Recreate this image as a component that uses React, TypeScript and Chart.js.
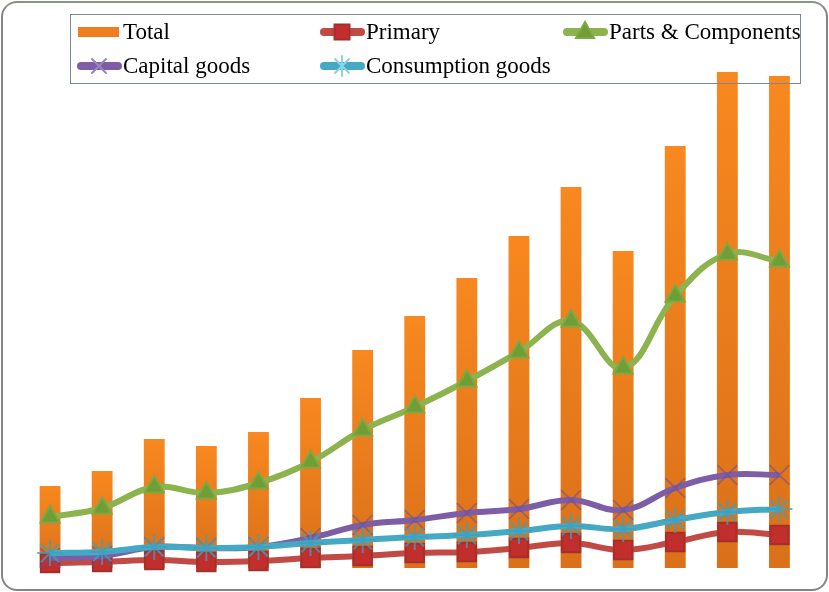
import { useEffect, useRef } from "react";
import { Chart, registerables } from "chart.js";
Chart.register(...registerables);

const categories = ["1995","1996","1997","1998","1999","2000","2001","2002","2003","2004","2005","2006","2007","2008","2009"];
const total = [82, 97, 129, 122, 136, 170, 218, 252, 290, 332, 381, 317, 422, 496, 492];
const primary = [5, 6, 8, 6, 7, 10, 12, 15, 16, 20, 25, 18, 26, 36, 33];
const parts = [51, 60, 81, 75, 85, 106, 138, 161, 187, 216, 247, 200, 272, 314, 307];
const capital = [10, 12, 21, 20, 21, 30, 43, 48, 55, 59, 68, 58, 80, 93, 93];
const consumption = [15, 16, 21, 20, 21, 25, 28, 31, 33, 37, 42, 39, 48, 56, 59];

function drawShape(ctx: CanvasRenderingContext2D, style: string, x: number, y: number, r: number, fill: string, stroke: string) {
  ctx.save();
  ctx.fillStyle = fill;
  ctx.strokeStyle = stroke;
  ctx.lineWidth = 2;
  ctx.beginPath();
  if (style === "rect") {
    ctx.rect(x - r * 0.75, y - r * 0.75, r * 1.5, r * 1.5);
    ctx.fill();
    ctx.stroke();
  } else if (style === "triangle") {
    ctx.moveTo(x, y - r);
    ctx.lineTo(x + r * 0.9, y + r * 0.6);
    ctx.lineTo(x - r * 0.9, y + r * 0.6);
    ctx.closePath();
    ctx.fill();
    ctx.stroke();
  } else if (style === "crossRot") {
    const d = r * 0.7;
    ctx.moveTo(x - d, y - d); ctx.lineTo(x + d, y + d);
    ctx.moveTo(x + d, y - d); ctx.lineTo(x - d, y + d);
    ctx.stroke();
  } else if (style === "star") {
    const d = r * 0.7;
    ctx.moveTo(x - d, y - d); ctx.lineTo(x + d, y + d);
    ctx.moveTo(x + d, y - d); ctx.lineTo(x - d, y + d);
    ctx.moveTo(x, y - r); ctx.lineTo(x, y + r);
    ctx.stroke();
  }
  ctx.restore();
}

const legendPlugin = {
  id: "customLegend",
  afterDraw(chart: any) {
    const ctx: CanvasRenderingContext2D = chart.ctx;
    ctx.save();
    ctx.strokeStyle = "#7a8699";
    ctx.lineWidth = 1;
    ctx.strokeRect(70.5, 14.5, 730, 69);
    const cols = [77, 320, 563];
    const rows = [32, 66];
    ctx.font = '23px "Liberation Serif", "Times New Roman", serif';
    ctx.textBaseline = "middle";
    chart.data.datasets.forEach((ds: any, i: number) => {
      const x = cols[i % 3];
      const y = rows[Math.floor(i / 3)];
      if (ds.type === "bar") {
        ctx.fillStyle = "#EE7E1E";
        ctx.fillRect(x + 1, y - 5, 41, 10);
      } else {
        ctx.strokeStyle = ds.borderColor;
        ctx.lineWidth = 8;
        ctx.lineCap = "round";
        ctx.beginPath();
        ctx.moveTo(x + 4, y);
        ctx.lineTo(x + 41, y);
        ctx.stroke();
        drawShape(ctx, ds.pointStyle, x + 22, y, 10, ds.legendFill, ds.legendStroke);
      }
      ctx.fillStyle = "#000";
      ctx.fillText(ds.label, x + 46, y + 1);
    });
    ctx.restore();
  },
};

export default function App() {
  const ref = useRef<HTMLCanvasElement>(null);
  useEffect(() => {
    if (!ref.current) return;
    const barColor = (c: any) => {
      const chart = c.chart;
      const ys = chart.scales?.y;
      if (!ys || c.parsed == null) return "#EE7E1E";
      const top = ys.getPixelForValue(c.parsed.y);
      const bot = ys.getPixelForValue(0);
      if (!isFinite(top) || !isFinite(bot) || top === bot) return "#EE7E1E";
      const g = chart.ctx.createLinearGradient(0, top, 0, bot);
      g.addColorStop(0, "#F8881F");
      g.addColorStop(1, "#DA7019");
      return g;
    };
    const lineCommon = {
      type: "line" as const,
      borderWidth: 6,
      tension: 0.4,
      pointBorderWidth: 2,
      clip: false as any,
      fill: false,
    };
    const chart = new Chart(ref.current, {
      type: "bar",
      data: {
        labels: categories,
        datasets: [
          { type: "bar", label: "Total", data: total, backgroundColor: barColor as any, order: 6, barPercentage: 0.8, categoryPercentage: 0.5 } as any,
          { ...lineCommon, label: "Primary", data: primary, borderColor: "#C24A45", pointStyle: "rect", pointRadius: 13, pointBackgroundColor: "#C22E2C", pointBorderColor: "#A3302C", legendFill: "#C22E2C", legendStroke: "#A3302C", order: 4 } as any,
          { ...lineCommon, label: "Parts & Components", data: parts, borderColor: "#8DB34E", pointStyle: "triangle", pointRadius: 11, pointBackgroundColor: "#6E9E35", pointBorderColor: "#7FA743", legendFill: "#6E9E35", legendStroke: "#7FA743", order: 3 } as any,
          { ...lineCommon, label: "Capital goods", data: capital, borderColor: "#7C5DA6", pointStyle: "crossRot", pointRadius: 14, pointBackgroundColor: "rgba(110,80,150,0.55)", pointBorderColor: "rgba(110,80,150,0.55)", legendFill: "#7C5DA6", legendStroke: "#9A84BE", order: 2 } as any,
          { ...lineCommon, label: "Consumption goods", data: consumption, borderColor: "#45A9C4", pointStyle: "star", pointRadius: 13, pointBackgroundColor: "rgba(60,160,190,0.75)", pointBorderColor: "rgba(60,160,190,0.75)", legendFill: "#45A9C4", legendStroke: "#8DD3E6", order: 1 } as any,
        ],
      },
      options: {
        animation: false,
        responsive: false,
        layout: { padding: { left: 24, right: 23.5, top: 68, bottom: 24 } },
        plugins: { legend: { display: false }, tooltip: { enabled: false } },
        scales: {
          x: { display: false, grid: { display: false } },
          y: { display: false, min: 0, max: 500, grid: { display: false } },
        },
      },
      plugins: [legendPlugin],
    });
    return () => chart.destroy();
  }, []);
  return (
    <div style={{ position: "absolute", left: 0, top: 0, width: 829, height: 592, background: "#fff" }}>
      <div style={{ position: "absolute", left: 1, top: 1, width: 827, height: 590, boxSizing: "border-box", border: "2px solid #858585", borderTopColor: "#8a9484", borderRadius: 16 }} />
      <canvas ref={ref} width={829} height={592} style={{ position: "absolute", left: 0, top: 0, width: 829, height: 592 }} />
    </div>
  );
}
